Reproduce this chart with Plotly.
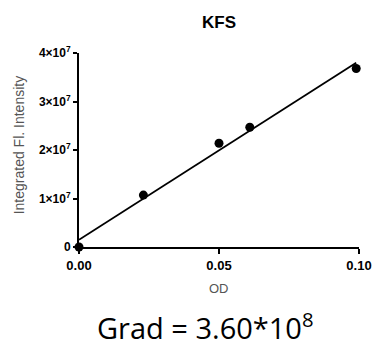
import plotly.graph_objects as go

# Data
od = [0.0, 0.023, 0.050, 0.061, 0.099]
intensity = [0.0, 1.07e7, 2.14e7, 2.47e7, 3.68e7]
fit_x = [0.0, 0.099]
fit_y = [1.5e6, 3.80e7]
x_ticks = [0.0, 0.05, 0.10]
x_ticktext = ["0.00", "0.05", "0.10"]
y_ticks = [0, 1e7, 2e7, 3e7, 4e7]
y_ticktext = ["0", "1×10<sup>7</sup>", "2×10<sup>7</sup>", "3×10<sup>7</sup>", "4×10<sup>7</sup>"]

L, R, T, B = 79, 14, 53, 103
W, H = 384, 350
pw = W - L - R
ph = H - T - B

fig = go.Figure()
fig.add_trace(go.Scatter(x=fit_x, y=fit_y, mode="lines",
                         line=dict(color="black", width=1.8), cliponaxis=False,
                         showlegend=False))
fig.add_trace(go.Scatter(x=od, y=intensity, mode="markers",
                         marker=dict(color="black", size=9), cliponaxis=False,
                         showlegend=False))

fig.update_layout(
    width=W, height=H,
    margin=dict(l=L, r=R, t=T, b=B),
    plot_bgcolor="white", paper_bgcolor="white",
    xaxis=dict(range=[0, 0.1], tickvals=x_ticks, ticktext=x_ticktext,
               showgrid=False, zeroline=False, showline=True, linecolor="black",
               linewidth=2, ticks="outside", ticklen=5, tickwidth=2, tickcolor="black",
               tickfont=dict(family="Liberation Sans, Arial", size=13, color="black", weight="bold")),
    yaxis=dict(range=[0, 4e7], tickvals=y_ticks, ticktext=y_ticktext,
               showgrid=False, zeroline=False, showline=True, linecolor="black",
               linewidth=2, ticks="outside", ticklen=4, tickwidth=2, tickcolor="black",
               tickfont=dict(family="Liberation Sans, Arial", size=12, color="black", weight="bold")),
    annotations=[
        dict(text="<b>KFS</b>", xref="paper", yref="paper",
             x=(224 - L) / pw, y=1 + (T - 22) / ph, xanchor="center", yanchor="middle",
             showarrow=False, font=dict(family="Liberation Sans, Arial", size=17, color="black")),
        dict(text="Integrated Fl. Intensity", xref="paper", yref="paper",
             x=-(L - 17) / pw, y=1 - (145 - T) / ph, xanchor="center", yanchor="middle",
             textangle=-90, showarrow=False,
             font=dict(family="Liberation Sans, Arial", size=14, color="#555555")),
        dict(text="OD", xref="paper", yref="paper",
             x=(224 - L) / pw, y=-(288 - T - ph) / ph, xanchor="center", yanchor="middle",
             showarrow=False, font=dict(family="Liberation Sans, Arial", size=13, color="#555555")),
        dict(text="Grad = 3.60*10<sup>8</sup>", xref="paper", yref="paper",
             x=(210 - L) / pw, y=-(326 - T - ph) / ph, xanchor="center", yanchor="middle",
             showarrow=False, font=dict(family="Open Sans, Liberation Sans", size=29, color="black")),
    ],
)
fig.write_html("out.html")
